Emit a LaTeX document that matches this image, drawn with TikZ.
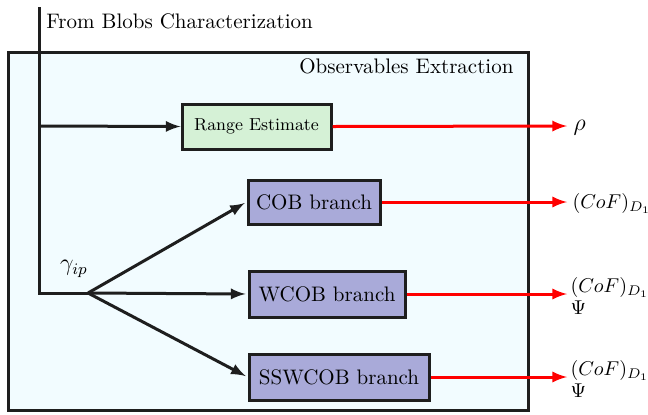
\documentclass[tikz,border=0pt]{standalone}
\usetikzlibrary{arrows}

\definecolor{panelbg}{RGB}{242,252,255}
\definecolor{rangefill}{RGB}{213,241,214}
\definecolor{branchfill}{RGB}{169,170,217}
\definecolor{linegray}{RGB}{30,30,30}

\begin{document}
\begin{tikzpicture} [x = 0.5pt, y = -0.5pt, line width = 1.5pt,
  font = \fontsize{10.5}{12.5}\selectfont,
  block/.style = {draw = linegray, line width = 1.5pt, inner sep = 0pt},
  flow/.style = {draw = linegray, -latex},
  result/.style = {draw = red, -latex},
  cof/.style = {anchor = west, inner sep = 0pt, align = left, font = \fontsize{10}{12}\selectfont}]

\useasboundingbox (0,0) rectangle (648,414);

% panel
\node [block, fill = panelbg, minimum width = 260pt, minimum height = 179pt] (panel) at (268,231) {};
\node [anchor = north east, inner sep = 0pt] (title) at (515,57) {Observables Extraction};

% input line
\coordinate (top) at (39,8);
\coordinate (tap) at (39,126);
\coordinate (corner) at (39,293);
\coordinate (fork) at (88,293);
\node [anchor = north west, inner sep = 0pt] (from) at (45,12) {From Blobs Characterization};
\node [inner sep = 0pt] (gamma) at (74,269) {\large $\gamma_{ip}$};

% blocks
\node [block, fill = rangefill, minimum width = 74.5pt, minimum height = 22.5pt] (range) at (256.5,126.5) {\fontsize{8.7}{10}\selectfont Range Estimate};
\node [block, fill = branchfill, minimum width = 66pt, minimum height = 22pt] (cob) at (314,202) {COB branch};
\node [block, fill = branchfill, minimum width = 78pt, minimum height = 23pt] (wcob) at (327,294) {WCOB branch};
\node [block, fill = branchfill, minimum width = 90pt, minimum height = 23pt] (sswcob) at (339,377) {SSWCOB branch};

% outputs
\coordinate (rhoend) at (567,126);
\coordinate (cob end) at (567,202);
\coordinate (wcob end) at (567,294);
\coordinate (sswcob end) at (567,377);
\node [anchor = west, inner sep = 0pt] (rho) at (572,128) {\large $\rho$};
\node [cof] (cof1) at (571,203) {$(CoF)_{D_1}$};
\node [cof] (cof2) at (569,296) {$(CoF)_{D_1}$\\[-1pt]$\Psi$};
\node [cof] (cof3) at (569,379) {$(CoF)_{D_1}$\\[-1pt]$\Psi$};

\draw [linegray, line cap = rect] (top) -- (corner) -- (fork);
\path [flow] (tap) -- (range.west);
\path [flow, shorten >= 1pt] (fork) -- (cob.west);
\path [flow, shorten >= 1pt] (fork) -- (wcob.west);
\path [flow, shorten >= 1pt] (fork) -- (sswcob.west);

\path [result] (range.east) -- (rhoend);
\path [result] (cob.east) -- (cob end);
\path [result] (wcob.east) -- (wcob end);
\path [result] (sswcob.east) -- (sswcob end);

\end{tikzpicture}
\end{document}
